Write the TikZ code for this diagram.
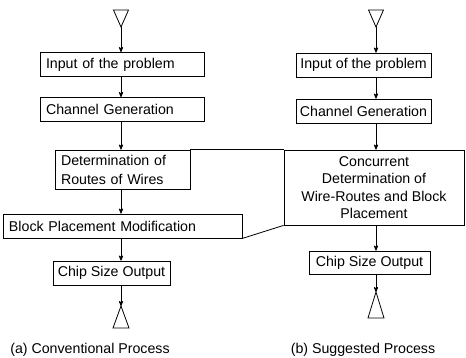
\documentclass[tikz,border=0pt]{standalone}
\usepackage{fontspec}
\setmainfont{Liberation Sans}
\usetikzlibrary{arrows}

\begin{document}
\begin{tikzpicture}[x=1pt,y=-1pt,>=stealth',line width=0.8pt,
  font=\fontsize{14.2}{17}\selectfont]

  \tikzstyle{process}=[rectangle,draw=black,inner xsep=6pt,inner ysep=0pt,minimum height=24pt,align=left]
  \tikzstyle{centred}=[process,inner xsep=3pt,align=center]
  \tikzstyle{flow}=[->,line width=0.8pt]
  \tikzstyle{terminal}=[line width=0.8pt,line join=miter]

  \useasboundingbox (0,0) rectangle (466,358);

  % (a) conventional process
  \coordinate (topL) at (121,27);
  \draw[terminal] (topL) -- (113.5,10) -- (128.5,10) -- cycle;
  \node[process,text width=152pt]  (inL)   at (122,64.5)  {Input of the problem};
  \node[process,text width=152pt]  (chL)   at (122,109.5) {Channel Generation};
  \node[process,text width=123pt,minimum height=39pt,
        font=\fontsize{14.2}{19}\selectfont] (detL) at (122.5,169.5)
        {Determination of\\Routes of Wires};
  \node[process,text width=227pt]  (blkL)  at (122.5,226) {Block Placement Modification};
  \node[centred,minimum width=117pt] (chipL) at (111.5,273) {Chip Size Output};
  \coordinate (botL) at (121,306);
  \draw[terminal] (botL) -- (113,328) -- (129,328) -- cycle;
  \node (capL) at (90,350) {(a) Conventional Process};

  \draw[flow] (topL) -- (inL.north -| topL);
  \draw[flow] (inL.south -| topL) -- (chL.north -| topL);
  \draw[flow] (chL.south -| topL) -- (detL.north -| topL);
  \draw[flow] (detL.south -| topL) -- (blkL.north -| topL);
  \draw[flow] (blkL.south -| topL) -- (chipL.north -| topL);
  \draw[flow] (chipL.south -| topL) -- (botL);

  % (b) suggested process
  \coordinate (topR) at (376,27);
  \draw[terminal] (topR) -- (368.5,10) -- (383.5,10) -- cycle;
  \node[centred,minimum width=135pt] (inR)  at (363.5,65)  {Input of the problem};
  \node[centred,minimum width=135pt] (chR)  at (363.5,111) {Channel Generation};
  \node[centred,minimum width=180pt,minimum height=75pt,
        font=\fontsize{14.2}{17.5}\selectfont] (concR) at (374,187.5)
        {Concurrent\\Determination of\\Wire-Routes and Block\\Placement};
  \node[centred,minimum width=121pt,minimum height=23pt] (chipR) at (369.5,262.5) {Chip Size Output};
  \coordinate (botR) at (376,292);
  \draw[terminal] (botR) -- (368,318) -- (384,318) -- cycle;
  \node (capR) at (363,350) {(b) Suggested Process};

  \draw[flow] (topR) -- (inR.north -| topR);
  \draw[flow] (inR.south -| topR) -- (chR.north -| topR);
  \draw[flow] (chR.south -| topR) -- (concR.north -| topR);
  \draw[flow] (concR.south -| topR) -- (chipR.north -| topR);
  \draw[flow] (chipR.south -| topR) -- (botR);

  % correspondence of the two parts
  \draw (detL.north east) -- (concR.north west);
  \draw (blkL.south east) -- (concR.south west);

\end{tikzpicture}
\end{document}
